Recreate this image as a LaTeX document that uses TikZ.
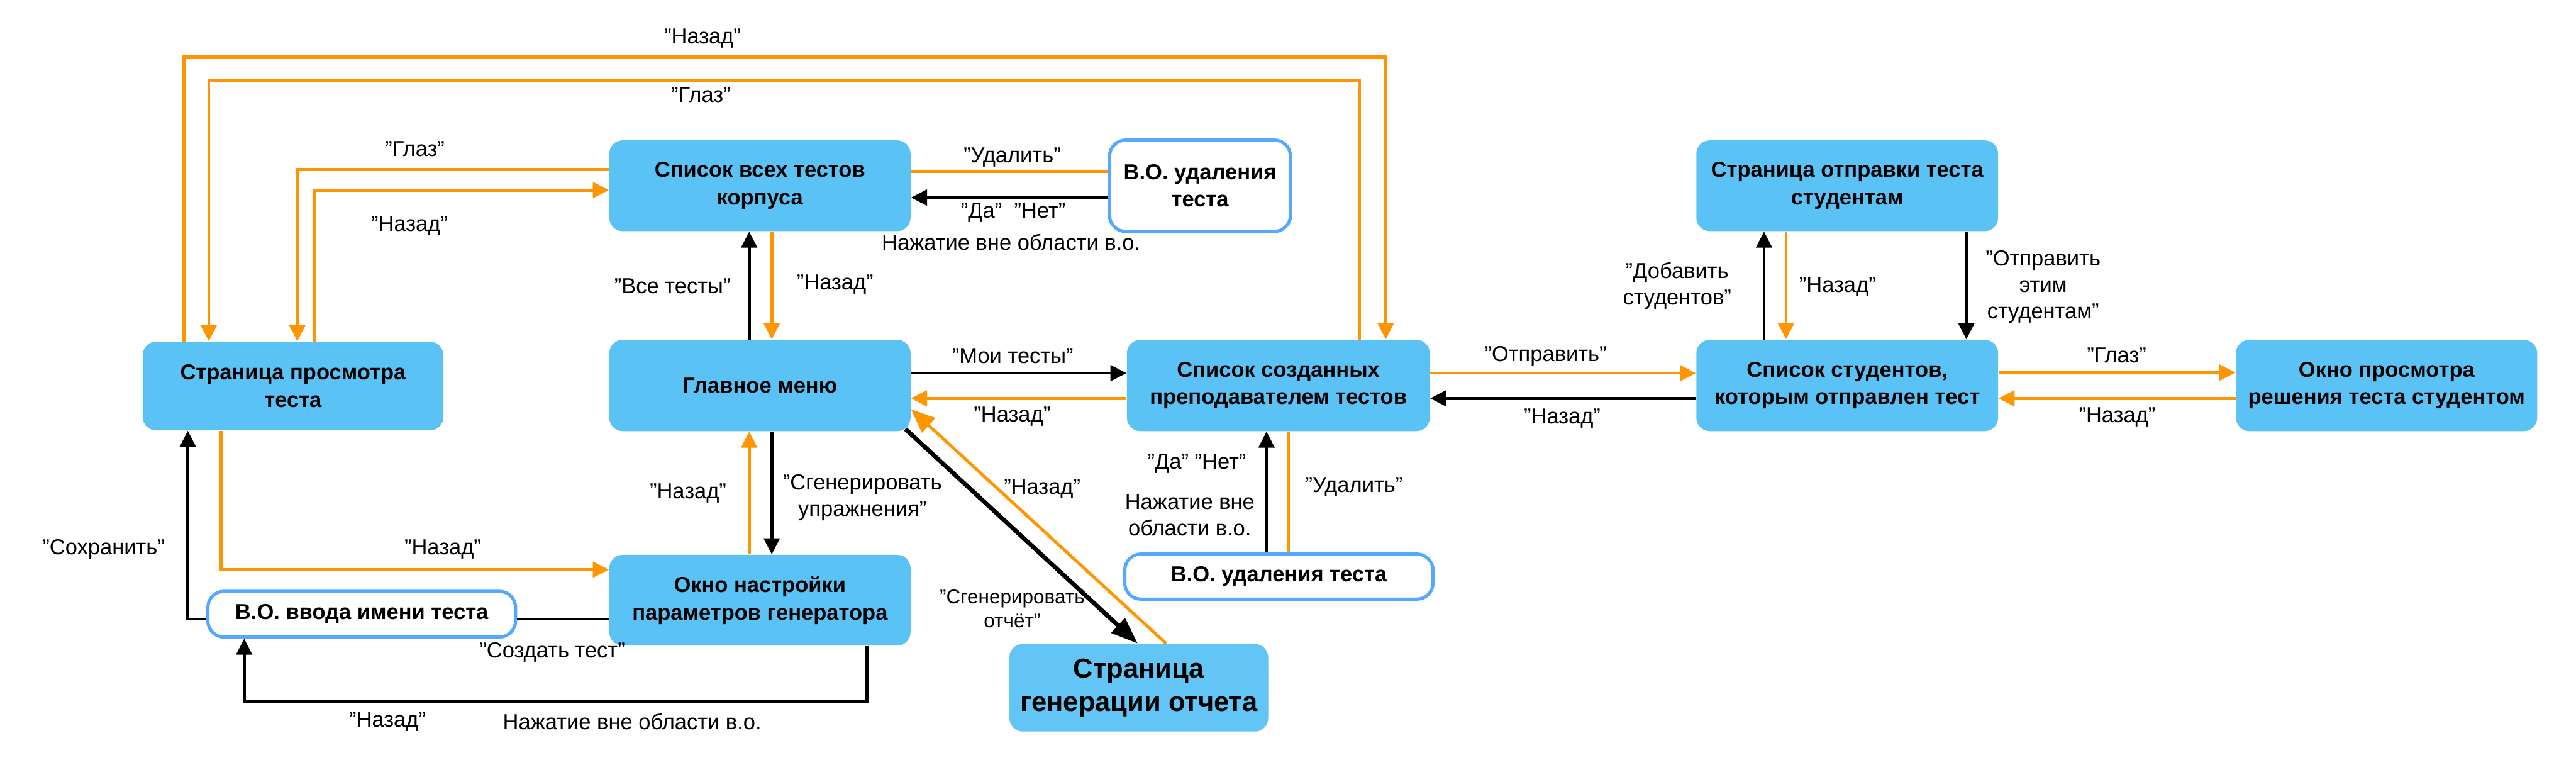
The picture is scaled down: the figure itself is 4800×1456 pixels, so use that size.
\documentclass[tikz,border=0pt]{standalone}
\usepackage{fontspec}
\setmainfont{Liberation Sans}
\usetikzlibrary{arrows.meta}
\definecolor{scr}{RGB}{91,194,245}
\definecolor{orng}{RGB}{255,149,0}
\definecolor{brd}{RGB}{85,168,255}

\begin{document}
\begin{tikzpicture}[x=0.01cm, y=-0.01cm,
    screen/.style={fill=scr, rounded corners=0.25cm, minimum width=5.61cm, minimum height=1.69cm, align=center, font=\fontsize{11.5}{14.5}\selectfont\bfseries},
    dlg/.style={draw=brd, line width=1.7pt, fill=white, rounded corners=0.3cm, align=center, font=\fontsize{11.5}{14.5}\selectfont\bfseries},
    lbl/.style={align=center, font=\fontsize{11.5}{14}\selectfont},
    blk/.style={line width=1.6pt, -{Triangle[length=0.3cm,width=0.29cm]}},
    org/.style={blk, draw=orng}]
    \useasboundingbox (0,0) rectangle (4800,1456);

    \node[screen, minimum width=5.6cm, minimum height=1.65cm] (view) at (546,719) {Страница просмотра\\теста};
    \node[screen] (all) at (1416,346) {Список всех тестов\\корпуса};
    \node[dlg, minimum width=3.37cm, minimum height=1.7cm] (delAll) at (2236,346) {В.О. удаления\\теста};
    \node[screen, minimum height=1.7cm] (main) at (1416,718) {Главное меню};
    \node[screen, minimum width=5.64cm, minimum height=1.7cm] (my) at (2382,718) {Список созданных\\преподавателем тестов};
    \node[screen, minimum width=5.62cm] (sendPage) at (3442,346) {Страница отправки теста\\студентам};
    \node[screen, minimum width=5.62cm, minimum height=1.7cm] (students) at (3442,718) {Список студентов,\\которым отправлен тест};
    \node[screen, minimum height=1.7cm] (solution) at (4447,718) {Окно просмотра\\решения теста студентом};
    \node[screen] (gen) at (1416,1118) {Окно настройки\\параметров генератора};
    \node[dlg, minimum width=5.73cm, minimum height=0.85cm] (nameDlg) at (674,1144) {В.О. ввода имени теста};
    \node[dlg, minimum width=5.74cm, minimum height=0.84cm] (delMy) at (2383,1074) {В.О. удаления теста};
    \node[screen, fill=scr!95!white, minimum width=4.82cm, minimum height=1.63cm,
        font=\fontsize{14.5}{17.5}\selectfont\bfseries] (report) at (2122,1281) {Страница\\генерации отчета};

    \draw[org] (343,0 |- view.north) -- (343,106) -| (2582,0 |- my.north);
    \node[lbl] (tBack) at (1309,72) {"Назад"};
    \draw[org] (2533,0 |- my.north) -- (2533,151) -| (389,0 |- view.north);
    \node[lbl] (tEye) at (1306,177) {"Глаз"};

    \draw[org] (all.west |- 0,316) -| (554,0 |- view.north);
    \node[lbl] (aEye) at (773,277) {"Глаз"};
    \draw[org] (586,0 |- view.north) |- (all.west |- 0,354);
    \node[lbl] (aBack) at (763,421) {"Назад"};

    \draw[blk] (1396,0 |- main.north) -- (1396,0 |- all.south);
    \node[lbl] (allTests) at (1253,533) {"Все тесты"};
    \draw[org] (1438,0 |- all.south) -- (1438,0 |- main.north);
    \node[lbl] (allBack) at (1556,530) {"Назад"};

    \draw[org, -] (all.east |- 0,320) -- (delAll.west |- 0,320);
    \node[lbl] (delA) at (1886,293) {"Удалить"};
    \draw[blk] (delAll.west |- 0,368) -- (all.east |- 0,368);
    \node[lbl] (yesNoA) at (1888,396) {"Да"\ \ "Нет"};
    \node[lbl] (outA) at (1884,451) {Нажатие вне области в.о.};

    \draw[blk] (main.east |- 0,695) -- (my.west |- 0,695);
    \node[lbl] (mine) at (1887,663) {"Мои тесты"};
    \draw[org] (my.west |- 0,742) -- (main.east |- 0,742);
    \node[lbl] (myBack) at (1886,776) {"Назад"};

    \draw[org] (my.east |- 0,695) -- (students.west |- 0,695);
    \node[lbl] (send) at (2880,663) {"Отправить"};
    \draw[blk] (students.west |- 0,742) -- (my.east |- 0,742);
    \node[lbl] (stBack) at (2911,779) {"Назад"};

    \draw[blk] (3287,0 |- students.north) -- (3287,0 |- sendPage.south);
    \node[lbl] (addSt) at (3125,533) {"Добавить\\студентов"};
    \draw[org] (3328,0 |- sendPage.south) -- (3328,0 |- students.north);
    \node[lbl] (spBack) at (3424,534) {"Назад"};
    \draw[blk] (3664,0 |- sendPage.south) -- (3664,0 |- students.north);
    \node[lbl] (sendThem) at (3807,534) {"Отправить\\этим\\студентам"};

    \draw[org] (students.east |- 0,694) -- (solution.west |- 0,694);
    \node[lbl] (solEye) at (3944,662) {"Глаз"};
    \draw[org] (solution.west |- 0,742) -- (students.east |- 0,742);
    \node[lbl] (solBack) at (3945,777) {"Назад"};

    \draw[blk] (1438,0 |- main.south) -- (1438,0 |- gen.north);
    \node[lbl] (genEx) at (1607,927) {"Сгенерировать\\упражнения"};
    \draw[org] (1396,0 |- gen.north) -- (1396,0 |- main.south);
    \node[lbl] (genBack) at (1282,919) {"Назад"};

    \draw[org] (412,0 |- view.south) |- (gen.west |- 0,1061);
    \node[lbl] (vBack) at (825,1023) {"Назад"};

    \draw[blk, -] (gen.west |- 0,1153) -- (nameDlg.east |- 0,1153);
    \node[lbl] (create) at (1029,1215) {"Создать тест"};
    \draw[blk] (nameDlg.west |- 0,1153) -| (350,0 |- view.south);
    \node[lbl] (save) at (193,1023) {"Сохранить"};
    \draw[blk] (1615,0 |- gen.south) -- (1615,1307) -| (455,0 |- nameDlg.south);
    \node[lbl] (nBack) at (722,1344) {"Назад"};
    \node[lbl] (nOut) at (1178,1344) {Нажатие вне области в.о.};

    \draw[line width=2.3pt, -{Triangle[length=0.5cm,width=0.36cm]}] (1687,799) -- (2120,0 |- report.north);
    \node[lbl, font=\fontsize{10.5}{12.5}\selectfont] (rep) at (1886,1134) {"Сгенерировать\\отчёт"};
    \draw[org, -{Triangle[length=0.45cm,width=0.36cm]}] (2173,0 |- report.north) -- (main.east |- 0,762);
    \node[lbl] (repBack) at (1942,911) {"Назад"};

    \draw[blk] (2360,0 |- delMy.north) -- (2360,0 |- my.south);
    \node[lbl] (yesNoM) at (2230,864) {"Да" "Нет"};
    \node[lbl] (outM) at (2217,960) {Нажатие вне\\области в.о.};
    \draw[org, -] (2401,0 |- my.south) -- (2401,0 |- delMy.north);
    \node[lbl] (delM) at (2523,907) {"Удалить"};
\end{tikzpicture}
\end{document}
